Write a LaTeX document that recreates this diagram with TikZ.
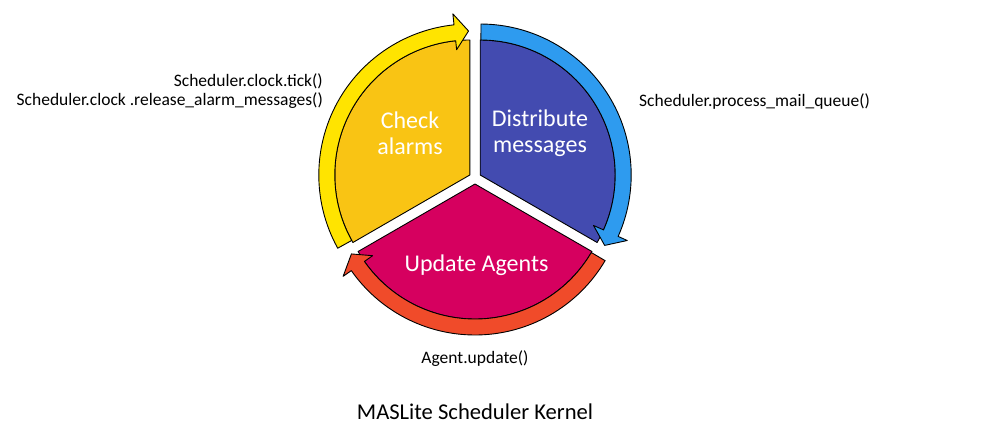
\documentclass[tikz,border=0pt]{standalone}
\usepackage{fontspec}
\setmainfont{Carlito}
\definecolor{segY}{HTML}{F9C414}
\definecolor{arrY}{HTML}{FFE400}
\definecolor{segB}{HTML}{434BB0}
\definecolor{arrB}{HTML}{2E9BEF}
\definecolor{segM}{HTML}{D6005F}
\definecolor{arrR}{HTML}{F04B2A}
\tikzset{
  shapeline/.style={draw=black, line width=0.9pt, line join=round},
  segtext/.style={text=white, align=center, inner sep=0pt, font=\fontsize{24}{26}\selectfont},
  codetext/.style={text=black, inner sep=0pt, font=\fontsize{17.5}{18.5}\selectfont},
}
\begin{document}
\begin{tikzpicture}[x=1pt,y=1pt]
\useasboundingbox (0,0) rectangle (995,440);
\coordinate (Y) at (469.8,265);
\coordinate (B) at (480.2,265);
\coordinate (M) at (475,256);
% segments
\begin{scope}[shift={(Y)}]
  \draw[shapeline, fill=segY] (0,0) -- (90:135pt) arc[start angle=90, end angle=210, radius=135pt] -- cycle;
\end{scope}
\begin{scope}[shift={(B)}]
  \draw[shapeline, fill=segB] (0,0) -- (-30:135pt) arc[start angle=-30, end angle=90, radius=135pt] -- cycle;
\end{scope}
\begin{scope}[shift={(M)}]
  \draw[shapeline, fill=segM] (0,0) -- (210:135pt) arc[start angle=210, end angle=330, radius=135pt] -- cycle;
\end{scope}
% arrows
\begin{scope}[shift={(Y)}]
  \draw[shapeline, fill=arrY] (209:151pt) arc[start angle=209, end angle=96, radius=151pt]
    -- (96:162pt) -- (90.5:144pt) -- (96:126pt) -- (96:135pt)
    arc[start angle=96, end angle=209, radius=135pt] -- cycle;
\end{scope}
\begin{scope}[shift={(B)}]
  \draw[shapeline, fill=arrB] (89.7:151pt) arc[start angle=89.7, end angle=-24, radius=151pt]
    -- (-24:161pt) -- (-29.5:143pt) -- (-24:124pt) -- (-24:135pt)
    arc[start angle=-24, end angle=89.7, radius=135pt] -- cycle;
\end{scope}
\begin{scope}[shift={(M)}]
  \draw[shapeline, fill=arrR] (-30.5:151pt) arc[start angle=-30.5, end angle=-145, radius=151pt]
    -- (-145:161pt) -- (-150.5:142pt) -- (-145:125pt) -- (-145:135pt)
    arc[start angle=-145, end angle=-30.5, radius=135pt] -- cycle;
\end{scope}
% segment texts
\node[segtext] (check) at (410,307) {Check\\alarms};
\node[segtext] (dist) at (540,307) {Distribute\\messages};
\node[segtext] (upd) at (476.5,175) {Update Agents};
% code labels
\node[codetext, anchor=east, align=right] (clock) at (323,349) {Scheduler.clock.tick()\\Scheduler.clock .release\_alarm\_messages()};
\node[codetext, anchor=west] (mail) at (639,338.3) {Scheduler.process\_mail\_queue()};
\node[codetext] (agent) at (475,81) {Agent.update()};
\node[text=black, inner sep=0pt, font=\fontsize{22.6}{24}\selectfont] (title) at (475,28.3) {MASLite Scheduler Kernel};
\end{tikzpicture}
\end{document}
